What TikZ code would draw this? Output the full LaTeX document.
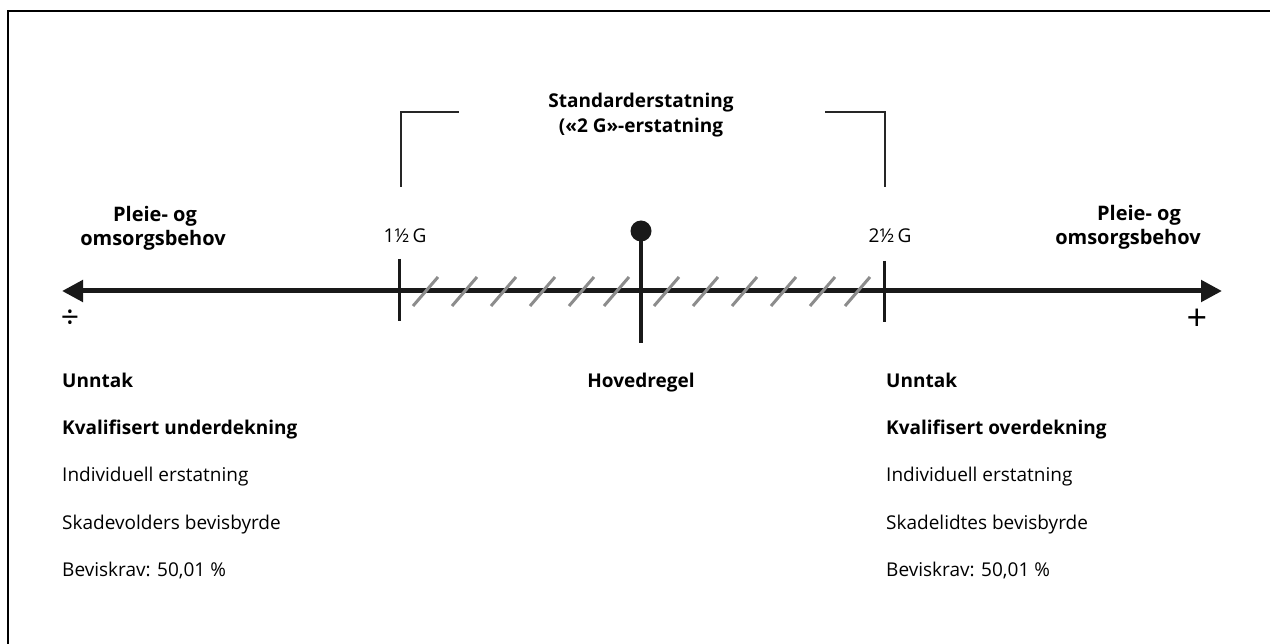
\documentclass[tikz,border=0pt]{standalone}
\usepackage{fontspec}
\setmainfont{Open Sans}
\usetikzlibrary{arrows.meta}
\begin{document}
\begin{tikzpicture}[x=1pt,y=-1pt,
  lbl/.style={inner sep=0pt,font=\fontsize{19}{22}\selectfont},
  blbl/.style={lbl,font=\fontsize{19}{22}\selectfont\bfseries},
  side/.style={lbl,font=\fontsize{20}{24}\selectfont\bfseries},
  tick/.style={line width=3pt,black!90},
  hatch/.style={line width=3pt,gray!90},
  brk/.style={line width=1.4pt,black!85},
  axis/.style={line width=5pt,black!90,{Triangle[length=21pt,width=21pt]}-{Triangle[length=21pt,width=21pt]}}]
\useasboundingbox (0,0) rectangle (1270,644);
\fill[white] (0,0) rectangle (1270,644);
% frame
\coordinate (fbl) at (8,650);
\coordinate (ftl) at (8,11);
\coordinate (ftr) at (1276,11);
\draw[line width=2.6pt,line cap=rect] (fbl) -- (ftl) -- (ftr);
% axis
\coordinate (aL) at (62,291);
\coordinate (aR) at (1222,291);
\draw[axis] (aL) -- (aR);
% hatches
\foreach \x [count=\i] in {413,452,491,530,569,604,654,693,732,771,810,845}{
  \coordinate (hb\i) at (\x,306);
  \coordinate (ht\i) at (\x+25,277);
  \draw[hatch] (hb\i) -- (ht\i);
}
% ticks
\coordinate (t1a) at (399,259); \coordinate (t1b) at (399,321);
\coordinate (t2a) at (884,261); \coordinate (t2b) at (884,322);
\draw[tick] (t1a) -- (t1b);
\draw[tick] (t2a) -- (t2b);
\coordinate (ball) at (641,231);
\coordinate (cb) at (641,343);
\draw[line width=4pt,black!90] (ball) -- (cb);
\fill[black!90] (ball) circle (10.5);
% bracket
\coordinate (bl1) at (401,187); \coordinate (bl2) at (401,112); \coordinate (bl3) at (459,112);
\coordinate (br1) at (885,187); \coordinate (br2) at (885,112); \coordinate (br3) at (825,112);
\draw[brk] (bl1) -- (bl2) -- (bl3);
\draw[brk] (br1) -- (br2) -- (br3);
% texts
\node[blbl,anchor=base] (title1) at (641,108) {Standarderstatning};
\node[blbl,anchor=base] (title2) at (641,133) {(«2 G»-erstatning};
\node[side,anchor=base] (pl1) at (155,222) {Pleie- og};
\node[side,anchor=base] (pl2) at (153,246) {omsorgsbehov};
\node[side,anchor=base] (pr1) at (1139,221) {Pleie- og};
\node[side,anchor=base] (pr2) at (1128,245) {omsorgsbehov};
\node[lbl,anchor=base] (g1) at (405,243) {1½\,G};
\node[lbl,anchor=base] (g2) at (890,243) {2½\,G};
\node[lbl,font=\fontsize{32}{36}\selectfont] (minus) at (70,319) {÷};
\node[lbl,font=\fontsize{36}{38}\selectfont] (plus) at (1197,320) {+};
\node[blbl,anchor=base] (hov) at (641,388) {Hovedregel};
\node[blbl,anchor=base west] (lu) at (62,388) {Unntak};
\node[blbl,anchor=base west] (lk) at (62,435) {Kvalifisert underdekning};
\node[lbl,anchor=base west] (li) at (62,482) {Individuell erstatning};
\node[lbl,anchor=base west] (ls) at (62,529) {Skadevolders bevisbyrde};
\node[lbl,anchor=base west] (lb) at (62,576) {Beviskrav: 50,01 \%};
\node[blbl,anchor=base west] (ru) at (886,388) {Unntak};
\node[blbl,anchor=base west] (rk) at (886,435) {Kvalifisert overdekning};
\node[lbl,anchor=base west] (ri) at (886,482) {Individuell erstatning};
\node[lbl,anchor=base west] (rs) at (886,529) {Skadelidtes bevisbyrde};
\node[lbl,anchor=base west] (rb) at (886,576) {Beviskrav: 50,01 \%};
\end{tikzpicture}
\end{document}
